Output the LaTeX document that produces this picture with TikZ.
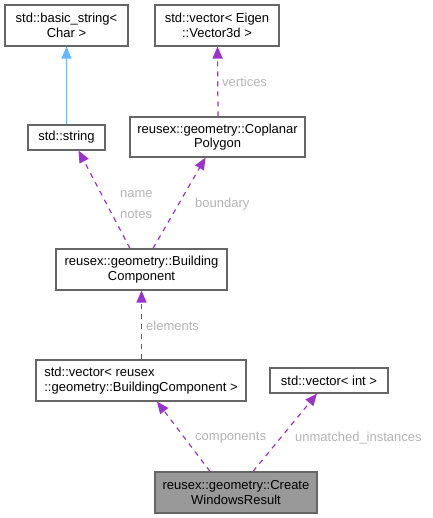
\documentclass[tikz,border=0pt]{standalone}
\usepackage{fontspec}
\setmainfont{Liberation Sans}
\usetikzlibrary{arrows.meta}

\definecolor{usagecol}{HTML}{9A32CD}
\definecolor{inheritcol}{HTML}{63B8FF}
\definecolor{labelcol}{HTML}{B4B4B4}
\definecolor{bordercol}{HTML}{666666}
\definecolor{focuscol}{HTML}{999999}

\tikzset{
  cls/.style={draw=bordercol, line width=1.1pt, inner sep=0pt, align=center,
    font=\fontsize{13}{14.5}\selectfont},
  usage/.style={usagecol, line width=1.2pt, dash pattern=on 5pt off 5pt,
    -{Triangle[length=12pt,width=10pt]}},
  inherit/.style={inheritcol, line width=1.2pt, -{Triangle[length=12pt,width=10pt]}},
  elabel/.style={labelcol, inner sep=0pt, font=\fontsize{13}{14.5}\selectfont}
}

\begin{document}
\begin{tikzpicture}[x=1pt,y=-1pt]
\useasboundingbox (0,0) rectangle (432,518);
% classes
\node [cls, minimum width=123pt, minimum height=41pt] (bstr) at (66.5,25.5) {std::basic\_string<\\Char >};
\node [cls, minimum width=124pt, minimum height=41pt] (veig) at (217,25.5) {std::vector< Eigen\\::Vector3d >};
\node [cls, minimum width=77pt, minimum height=25pt] (str) at (66.5,137.5) {std::string};
\node [cls, minimum width=175pt, minimum height=40pt] (cpoly) at (217.5,137) {reusex::geometry::Coplanar\\Polygon};
\node [cls, minimum width=171pt, minimum height=41pt] (bcomp) at (141.5,269.5) {reusex::geometry::Building\\Component};
\node [cls, align=left, minimum width=210pt, minimum height=41pt] (vbcomp) at (141,380.5) {std::vector< reusex\\::geometry::BuildingComponent >};
\node [cls, minimum width=118pt, minimum height=25pt] (vint) at (329,380.5) {std::vector< int >};
\node [cls, fill=focuscol, minimum width=162pt, minimum height=41pt] (cwres) at (236,492.5) {reusex::geometry::Create\\WindowsResult};

% edges
\draw [inherit] (str.north) -- (bstr.south);
\draw [usage] ([xshift=0.5pt]cpoly.north) -- ([xshift=0.5pt]veig.south);
\draw [usage] ([xshift=-11.5pt]bcomp.north) -- ([xshift=12pt]str.south);
\draw [usage] ([xshift=11.5pt]bcomp.north) -- ([xshift=-12pt]cpoly.south);
\draw [usage] ([xshift=0.5pt]vbcomp.north) -- (bcomp.south);
\draw [usage] ([xshift=-26pt]cwres.north) -- ([xshift=16pt]vbcomp.south);
\draw [usage] ([xshift=17pt]cwres.north) -- ([xshift=-12pt]vint.south);

% edge labels
\node [elabel, right] (lvert) at (222,82) {vertices};
\node [elabel, right] (lname) at (120,194) {name};
\node [elabel, right] (lnotes) at (120,214) {notes};
\node [elabel, right] (lbound) at (195,204) {boundary};
\node [elabel, right] (lelem) at (146,326) {elements};
\node [elabel, right] (lcomp) at (195,438) {components};
\node [elabel, right] (lunm) at (295,438) {unmatched\_instances};
\end{tikzpicture}
\end{document}
